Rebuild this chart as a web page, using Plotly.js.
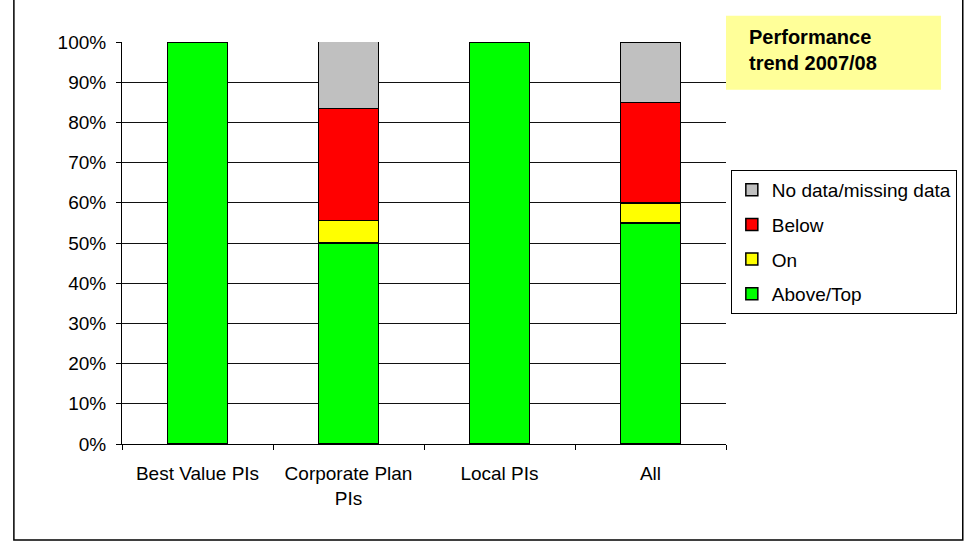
<!DOCTYPE html>
<html>
<head>
<meta charset="utf-8">
<script src="https://cdn.plot.ly/plotly-3.0.1.min.js"></script>
<style>html,body{margin:0;padding:0;background:#fff;}#chart{width:965px;height:542px;}</style>
</head>
<body>
<div id="chart"></div>
<script>
const categories = ['Best Value PIs', 'Corporate Plan<br>PIs', 'Local PIs', 'All'];
const aboveTop = [100, 50, 100, 55];
const onTarget = [null, 5.6, null, 5];
const below = [null, 27.8, null, 25];
const noData = [null, 16.7, null, 15];

const FONT = 'Liberation Sans, Arial, sans-serif';
function bar(name, y, color, grp, rank) {
  return {
    type: 'bar', name: name, x: categories, y: y, width: 0.4,
    legendgroup: grp, legendrank: rank,
    marker: {color: color, line: {color: '#000', width: 1.5}},
    hoverinfo: 'skip'
  };
}
const data = [
  bar('Above/Top', aboveTop, '#00FF00', 'g1', 4),
  bar('On', onTarget, '#FFFF00', 'g2', 3),
  bar('Below', below, '#FF0000', 'g3', 2),
  bar('No data/missing data', noData, '#C0C0C0', 'g4', 1)
];

const layout = {
  width: 965, height: 542,
  margin: {l: 122, r: 239, t: 42, b: 98, autoexpand: false},
  barmode: 'stack',
  paper_bgcolor: '#fff', plot_bgcolor: '#fff',
  font: {family: FONT, size: 19, color: '#000'},
  xaxis: {
    showline: true, linecolor: '#000', linewidth: 1,
    ticks: 'outside', ticklen: 5, tickcolor: '#000', tickson: 'boundaries',
    ticklabelstandoff: 12,
    tickfont: {family: FONT, size: 19},
    showgrid: false, zeroline: false, fixedrange: true
  },
  yaxis: {
    range: [0, 100], dtick: 10, ticksuffix: '%',
    showline: true, linecolor: '#000', linewidth: 1,
    ticks: 'outside', ticklen: 5, tickcolor: '#000',
    ticklabelstandoff: 6,
    tickfont: {family: FONT, size: 19},
    showgrid: true, gridcolor: '#111', gridwidth: 1,
    zeroline: false, fixedrange: true
  },
  legend: {
    x: 1.008, y: 0.682, xanchor: 'left', yanchor: 'top',
    traceorder: 'grouped', tracegroupgap: 7,
    bordercolor: '#000', borderwidth: 1, bgcolor: '#fff',
    font: {family: FONT, size: 19},
    itemwidth: 30
  },
  showlegend: true,
  shapes: [
    {type: 'rect', xref: 'paper', yref: 'paper', x0: 1.0, x1: 1.356, y0: 0.881, y1: 1.065,
     fillcolor: '#FFFF99', line: {width: 0}, layer: 'below'},
    {type: 'rect', xref: 'paper', yref: 'paper', x0: -0.179, x1: 1.392, y0: -0.239, y1: 1.2,
     fillcolor: 'rgba(0,0,0,0)', line: {color: '#000', width: 1.5}}
  ],
  annotations: [
    {xref: 'paper', yref: 'paper', x: 1.035, y: 1.045, xanchor: 'left', yanchor: 'top',
     align: 'left', showarrow: false,
     text: '<b>Performance<br>trend 2007/08</b>',
     font: {family: FONT, size: 20, color: '#000'}}
  ]
};

Plotly.newPlot('chart', data, layout, {displayModeBar: false, staticPlot: true});
</script>
</body>
</html>
